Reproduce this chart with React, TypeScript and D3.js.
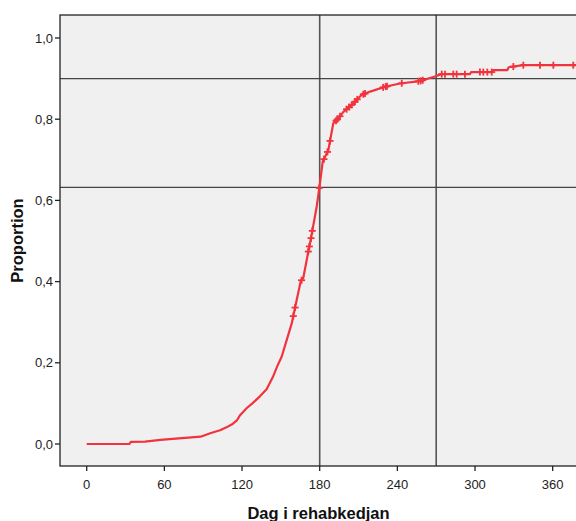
import React from "react";
import * as d3 from "d3";

// Cumulative proportion curve: [day, proportion]
const curveDays = [0, 33, 34, 45, 57, 64, 76, 88, 96, 103, 108, 113, 116, 118.5, 123.5, 128, 134, 139, 144, 147, 150.6, 154.5, 158.4, 161, 165.3, 167.4, 171.2, 173.3, 174.3, 177.7, 180.2, 182.3, 186.7, 190.5, 194.4, 198.3, 204.7, 212.5, 219, 230.5, 242, 257.5, 269, 274, 296, 297, 302.5, 313, 314, 325, 326, 337, 378];
const curveProps = [0, 0, 0.005, 0.006, 0.01, 0.012, 0.015, 0.018, 0.027, 0.034, 0.041, 0.05, 0.058, 0.071, 0.088, 0.1, 0.118, 0.135, 0.166, 0.19, 0.215, 0.256, 0.297, 0.336, 0.4, 0.41, 0.474, 0.507, 0.525, 0.585, 0.642, 0.695, 0.724, 0.79, 0.802, 0.818, 0.835, 0.86, 0.868, 0.88, 0.888, 0.894, 0.905, 0.911, 0.911, 0.916, 0.916, 0.916, 0.921, 0.921, 0.928, 0.933, 0.933];

// Censoring marks (days)
const censorDays = [159.6, 161, 166, 171.2, 172, 173.3, 174.3, 179.7, 183.3, 186, 188, 192.6, 193.6, 195.7, 200.8, 202.8, 204.7, 207.3, 209, 213.7, 215, 229, 231, 232, 243.4, 256.2, 258, 259.6, 274.3, 276.8, 283.2, 285.8, 292.2, 303.8, 306.4, 309.5, 312.9, 329.6, 337.3, 350.2, 360.5, 375.9];

const xTicks = [0, 60, 120, 180, 240, 300, 360];
const yTicks = [0, 0.2, 0.4, 0.6, 0.8, 1.0];
const refDays = [180, 270];
const refProps = [0.9, 0.632];

const xTitle = "Dag i rehabkedjan";
const yTitle = "Proportion";

export default function App() {
  const W = 576, H = 521;
  const left = 60, right = 577, top = 15, bottom = 466;
  const x = d3.scaleLinear().domain([0, 360]).range([86.7, 86.7 + 360 * 1.2944]);
  const y = d3.scaleLinear().domain([0, 1]).range([444, 38]);
  const pts: [number, number][] = curveDays.map((d, i) => [d, curveProps[i]]);
  const line = d3.line<[number, number]>().x(d => x(d[0])).y(d => y(d[1])).curve(d3.curveLinear);
  const interp = (day: number) => {
    const i = d3.bisector((p: [number, number]) => p[0]).right(pts, day);
    if (i <= 0) return pts[0][1];
    if (i >= pts.length) return pts[pts.length - 1][1];
    const a = pts[i - 1], b = pts[i];
    return a[1] + (b[1] - a[1]) * (day - a[0]) / (b[0] - a[0]);
  };
  const red = "#f2323c";
  const font = "'Liberation Sans', Arial, sans-serif";
  return (
    <svg width={W} height={H} style={{ position: "fixed", left: 0, top: 0 }}>
      <rect x={0} y={0} width={W} height={H} fill="#ffffff" />
      <rect x={left} y={top} width={right - left} height={bottom - top} fill="#f0f0f0" />
      {refDays.map(d => (
        <line key={"v" + d} x1={x(d)} x2={x(d)} y1={top} y2={bottom} stroke="#555" strokeWidth={1.6} />
      ))}
      {refProps.map(p => (
        <line key={"h" + p} x1={left} x2={right} y1={y(p)} y2={y(p)} stroke="#444" strokeWidth={1.4} />
      ))}
      <path d={line(pts) || ""} fill="none" stroke={red} strokeWidth={2.2} strokeLinejoin="round" />
      {censorDays.map((d, i) => {
        const cx = x(d), cy = y(interp(d));
        return (
          <g key={"c" + i} stroke={red} strokeWidth={1.8}>
            <line x1={cx - 3.5} x2={cx + 3.5} y1={cy} y2={cy} />
            <line x1={cx} x2={cx} y1={cy - 3.5} y2={cy + 3.5} />
          </g>
        );
      })}
      <rect x={left} y={top} width={right - left} height={bottom - top} fill="none" stroke="#222" strokeWidth={1.3} />
      {yTicks.map(t => (
        <g key={"yt" + t}>
          <line x1={left - 5} x2={left} y1={y(t)} y2={y(t)} stroke="#222" strokeWidth={1.3} />
          <text x={left - 7} y={y(t)} dy="0.35em" textAnchor="end" fontSize={13} fontFamily={font} fill="#222">
            {d3.format(".1f")(t).replace(".", ",")}
          </text>
        </g>
      ))}
      {xTicks.map(t => (
        <g key={"xt" + t}>
          <line x1={x(t)} x2={x(t)} y1={bottom} y2={bottom + 5} stroke="#222" strokeWidth={1.3} />
          <text x={x(t)} y={484} dy="0.35em" textAnchor="middle" fontSize={13} fontFamily={font} fill="#222">
            {t}
          </text>
        </g>
      ))}
      <text x={(left + right) / 2} y={513} dy="0.35em" textAnchor="middle" fontSize={16.5} fontWeight="bold" fontFamily={font} fill="#111">
        {xTitle}
      </text>
      <text transform={`translate(17, ${(top + bottom) / 2}) rotate(-90)`} dy="0.35em" textAnchor="middle" fontSize={16.5} fontWeight="bold" fontFamily={font} fill="#111">
        {yTitle}
      </text>
    </svg>
  );
}
